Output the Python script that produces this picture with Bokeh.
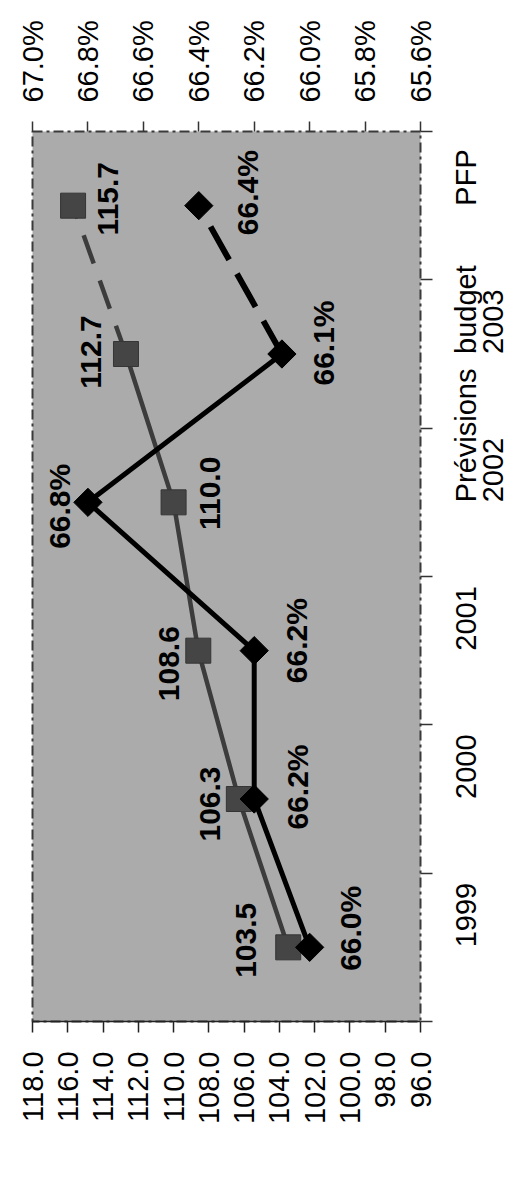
import math
from bokeh.plotting import figure
from bokeh.models import Range1d, LinearAxis, FixedTicker, PrintfTickFormatter
from bokeh.core.properties import value
from bokeh.embed import file_html
from bokeh.resources import INLINE

# ---- data ----
categories = ["1999", "2000", "2001", "Prévisions 2002", "budget 2003", "PFP"]
category_tick_labels = ["1999\n ", "2000\n ", "2001\n ", "Prévisions\n2002", "budget\n2003", "PFP\n "]
index_values = [103.5, 106.3, 108.6, 110.0, 112.7, 115.7]
rate_values = [66.0, 66.2, 66.2, 66.8, 66.1, 66.4]
primary_ticks = [96.0, 98.0, 100.0, 102.0, 104.0, 106.0, 108.0, 110.0, 112.0, 114.0, 116.0, 118.0]
secondary_ticks = [65.6, 65.8, 66.0, 66.2, 66.4, 66.6, 66.8, 67.0]
n_solid = 5  # solid through "budget 2003", dashed to PFP

# ---- styles ----
FONT = "Liberation Sans"
square_label_dx = [-42, -29, -29, 36, -35, 35]
square_label_dy = [-7, 5, 13, -9, -2, -7]
rate_label_dx = [41, 43, 42, -28, 42, 49]
rate_label_dy = [-19, -12, -10, 4, -11, -13]

ncat = len(categories)
ypos = [i + 0.5 for i in range(ncat)]
boundaries = [float(i) for i in range(ncat + 1)]

p = figure(frame_width=388, frame_height=890,
           x_range=Range1d(primary_ticks[-1], primary_ticks[0]),
           y_range=Range1d(0, ncat),
           y_axis_location="right", x_axis_location="below",
           output_backend="svg", toolbar_location=None,
           min_border_left=32, min_border_top=131, min_border_right=91, min_border_bottom=150,
           background_fill_color="#ababab", border_fill_color="white")
p.outline_line_color = "#3a3a3a"
p.outline_line_width = 2
p.outline_line_dash = "10 4 3 4"
p.xgrid.grid_line_color = None
p.ygrid.grid_line_color = None

p.extra_x_ranges = {"pct": Range1d(secondary_ticks[-1], secondary_ticks[0])}

# bottom axis (index)
bx = p.xaxis[0]
bx.ticker = FixedTicker(ticks=primary_ticks, minor_ticks=[])
bx.formatter = PrintfTickFormatter(format="%.1f")
bx.major_label_orientation = math.pi / 2
bx.major_tick_out = 11
bx.major_tick_in = 0
bx.major_label_standoff = 19
bx.axis_line_color = "#222222"
bx.axis_line_width = 1.5
bx.major_tick_line_color = "#222222"
bx.major_tick_line_width = 1.5

# top axis (rate)
tx = LinearAxis(x_range_name="pct", ticker=FixedTicker(ticks=secondary_ticks, minor_ticks=[]),
                formatter=PrintfTickFormatter(format="%.1f%%"))
tx.major_label_orientation = math.pi / 2
tx.major_tick_out = 10
tx.major_tick_in = 0
tx.major_label_standoff = 19
tx.axis_line_color = None
tx.major_tick_line_color = "#333333"
tx.major_tick_line_width = 1.5
p.add_layout(tx, "above")

# right axis (categories)
ry = p.yaxis[0]
ry.ticker = FixedTicker(ticks=ypos, minor_ticks=boundaries)
ry.major_label_overrides = {y: lab for y, lab in zip(ypos, category_tick_labels)}
ry.major_label_orientation = math.pi / 2
ry.major_tick_out = 0
ry.major_tick_in = 0
ry.minor_tick_out = 12
ry.minor_tick_in = 0
ry.minor_tick_line_color = "#333333"
ry.minor_tick_line_width = 1.5
ry.major_label_standoff = 47
ry.axis_line_color = None
ry.major_label_text_line_height = 0.85

for ax in (bx, tx, ry):
    ax.major_label_text_font = FONT
    ax.major_label_text_font_size = "29px"
    ax.major_label_text_color = "black"

# index series (squares)
p.line(index_values[:n_solid], ypos[:n_solid], line_color="#3c3c3c", line_width=4.5)
p.line(index_values[n_solid - 1:], ypos[n_solid - 1:], line_color="#3c3c3c", line_width=4.5,
       line_dash="30 18")
p.scatter(index_values, ypos, marker="square", size=25, fill_color="#454545", line_color="#353535")

# rate series (diamonds)
p.line(rate_values[:n_solid], ypos[:n_solid], x_range_name="pct", line_color="black", line_width=5)
p.line(rate_values[n_solid - 1:], ypos[n_solid - 1:], x_range_name="pct", line_color="black",
       line_width=6, line_dash="38 16")
p.scatter(rate_values, ypos, x_range_name="pct", marker="square", angle=math.pi / 4, size=20,
          fill_color="black", line_color="black")

# data labels
p.text(index_values, ypos, text=[f"{v:.1f}" for v in index_values], angle=math.pi / 2,
       x_offset=square_label_dx, y_offset=square_label_dy,
       text_font=value(FONT), text_font_size="30px", text_font_style="bold",
       text_align="center", text_baseline="middle", text_color="black")
p.text(rate_values, ypos, x_range_name="pct", text=[f"{v:.1f}%" for v in rate_values],
       angle=math.pi / 2, x_offset=rate_label_dx, y_offset=rate_label_dy,
       text_font=value(FONT), text_font_size="30px", text_font_style="bold",
       text_align="center", text_baseline="middle", text_color="black")

open("out.html", "w").write(file_html(p, INLINE))
